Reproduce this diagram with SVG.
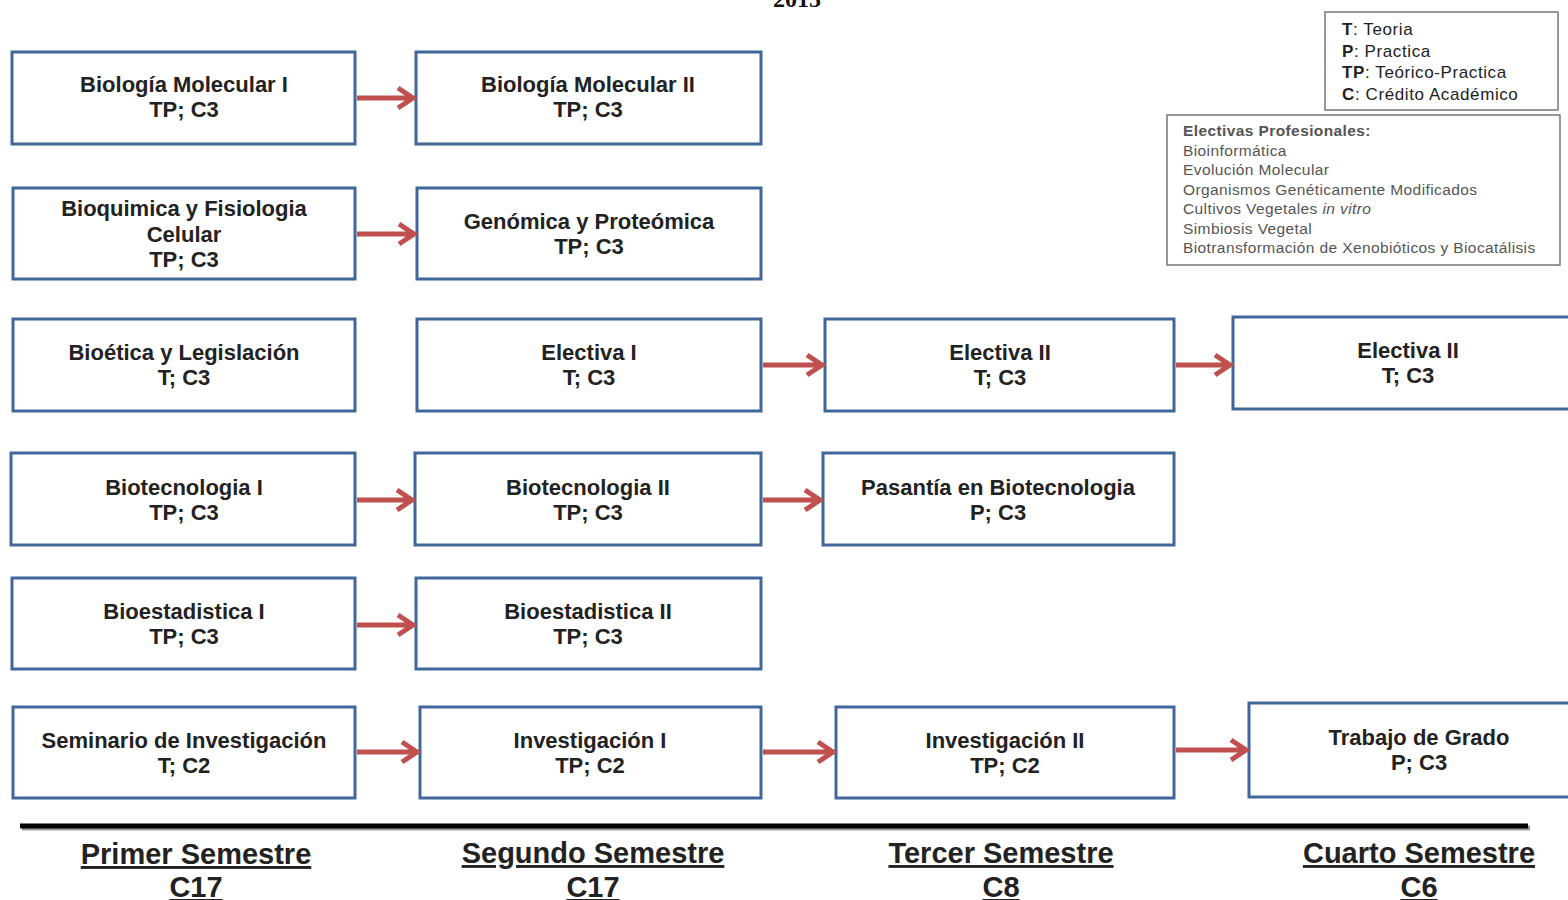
<svg xmlns="http://www.w3.org/2000/svg" width="1568" height="900" viewBox="0 0 1568 900">
<defs>
<style>
.box{fill:#fff;stroke:#41679a;stroke-width:3}
.t{font-family:"Liberation Sans",Arial,sans-serif;font-weight:bold;font-size:22px;fill:#222;text-anchor:middle}
.arr{stroke:#c0504d;stroke-width:5;fill:none;stroke-linecap:butt}
.lg{font-family:"Liberation Sans",Arial,sans-serif;font-size:17px;letter-spacing:0.6px;fill:#222}
.el{font-family:"Liberation Sans",Arial,sans-serif;font-size:15.5px;letter-spacing:0.4px;fill:#555}
.sem{font-family:"Liberation Sans",Arial,sans-serif;font-weight:bold;font-size:29px;fill:#222;text-anchor:middle;text-decoration:underline}
</style>
</defs>
<rect width="1568" height="900" fill="#fff"/>
<text x="797" y="7" font-family="Liberation Serif,serif" font-weight="bold" font-size="24" text-anchor="middle" fill="#111">2015</text>

<g id="legend1">
<rect x="1325" y="12" width="233" height="98" fill="#fff" stroke="#777" stroke-width="1.5"/>
<text class="lg" x="1342" y="35"><tspan font-weight="bold">T</tspan>: Teoria</text>
<text class="lg" x="1342" y="57"><tspan font-weight="bold">P</tspan>: Practica</text>
<text class="lg" x="1342" y="78"><tspan font-weight="bold">TP</tspan>: Teórico-Practica</text>
<text class="lg" x="1342" y="100"><tspan font-weight="bold">C</tspan>: Crédito Académico</text>
</g>
<g id="legend2">
<rect x="1167" y="115" width="393" height="150" fill="#fff" stroke="#777" stroke-width="1.5"/>
<text class="el" x="1183" y="136" font-weight="bold" fill="#222">Electivas Profesionales:</text>
<text class="el" x="1183" y="156">Bioinformática</text>
<text class="el" x="1183" y="175">Evolución Molecular</text>
<text class="el" x="1183" y="195">Organismos Genéticamente Modificados</text>
<text class="el" x="1183" y="214">Cultivos  Vegetales <tspan font-style="italic">in vitro</tspan></text>
<text class="el" x="1183" y="234">Simbiosis Vegetal</text>
<text class="el" x="1183" y="253">Biotransformación de Xenobióticos y Biocatálisis</text>
</g>

<g id="n1"><rect class="box" x="12" y="52" width="343" height="92"/><text class="t" x="184" y="92">Biología Molecular I</text><text class="t" x="184" y="117">TP; C3</text></g>
<g id="n2"><rect class="box" x="416" y="52" width="345" height="92"/><text class="t" x="588" y="92">Biología Molecular II</text><text class="t" x="588" y="117">TP; C3</text></g>
<g id="n3"><rect class="box" x="13" y="188" width="342" height="91"/><text class="t" x="184" y="216">Bioquimica y Fisiologia</text><text class="t" x="184" y="242">Celular</text><text class="t" x="184" y="267">TP; C3</text></g>
<g id="n4"><rect class="box" x="417" y="188" width="344" height="91"/><text class="t" x="589" y="229">Genómica y Proteómica</text><text class="t" x="589" y="254">TP; C3</text></g>
<g id="n5"><rect class="box" x="13" y="319" width="342" height="92"/><text class="t" x="184" y="360">Bioética y Legislación</text><text class="t" x="184" y="385">T; C3</text></g>
<g id="n6"><rect class="box" x="417" y="319" width="344" height="92"/><text class="t" x="589" y="360">Electiva I</text><text class="t" x="589" y="385">T; C3</text></g>
<g id="n7"><rect class="box" x="825" y="319" width="349" height="92"/><text class="t" x="1000" y="360">Electiva II</text><text class="t" x="1000" y="385">T; C3</text></g>
<g id="n8"><rect class="box" x="1233" y="317" width="340" height="92"/><text class="t" x="1408" y="358">Electiva II</text><text class="t" x="1408" y="383">T; C3</text></g>
<g id="n9"><rect class="box" x="11" y="453" width="344" height="92"/><text class="t" x="184" y="495">Biotecnologia I</text><text class="t" x="184" y="520">TP; C3</text></g>
<g id="n10"><rect class="box" x="415" y="453" width="346" height="92"/><text class="t" x="588" y="495">Biotecnologia II</text><text class="t" x="588" y="520">TP; C3</text></g>
<g id="n11"><rect class="box" x="823" y="453" width="351" height="92"/><text class="t" x="998" y="495">Pasantía en Biotecnologia</text><text class="t" x="998" y="520">P; C3</text></g>
<g id="n12"><rect class="box" x="12" y="578" width="343" height="91"/><text class="t" x="184" y="619">Bioestadistica I</text><text class="t" x="184" y="644">TP; C3</text></g>
<g id="n13"><rect class="box" x="416" y="578" width="345" height="91"/><text class="t" x="588" y="619">Bioestadistica II</text><text class="t" x="588" y="644">TP; C3</text></g>
<g id="n14"><rect class="box" x="13" y="707" width="342" height="91"/><text class="t" x="184" y="748">Seminario de Investigación</text><text class="t" x="184" y="773">T; C2</text></g>
<g id="n15"><rect class="box" x="420" y="707" width="341" height="91"/><text class="t" x="590" y="748">Investigación I</text><text class="t" x="590" y="773">TP; C2</text></g>
<g id="n16"><rect class="box" x="836" y="707" width="338" height="91"/><text class="t" x="1005" y="748">Investigación II</text><text class="t" x="1005" y="773">TP; C2</text></g>
<g id="n17"><rect class="box" x="1249" y="703" width="324" height="94"/><text class="t" x="1419" y="745">Trabajo de Grado</text><text class="t" x="1419" y="770">P; C3</text></g>

<g id="connectors">
<path class="arr" d="M357 98H412M398 88L413 98L398 108"/>
<path class="arr" d="M357 234H413M399 224L414 234L399 244"/>
<path class="arr" d="M763 365H821M807 355L822 365L807 375"/>
<path class="arr" d="M1176 365H1229M1215 355L1230 365L1215 375"/>
<path class="arr" d="M357 500H411M397 490L412 500L397 510"/>
<path class="arr" d="M763 500H819M805 490L820 500L805 510"/>
<path class="arr" d="M357 625H412M398 615L413 625L398 635"/>
<path class="arr" d="M357 752H416M402 742L417 752L402 762"/>
<path class="arr" d="M763 752H832M818 742L833 752L818 762"/>
<path class="arr" d="M1176 750H1245M1231 740L1246 750L1231 760"/>
</g>

<g id="axis">
<line x1="22" y1="828" x2="1530" y2="828" stroke="#999" stroke-width="5"/>
<line x1="20" y1="826" x2="1528" y2="826" stroke="#000" stroke-width="5"/>
<text class="sem" x="196" y="864">Primer Semestre</text>
<text class="sem" x="196" y="897">C17</text>
<text class="sem" x="593" y="863">Segundo Semestre</text>
<text class="sem" x="593" y="897">C17</text>
<text class="sem" x="1001" y="863">Tercer Semestre</text>
<text class="sem" x="1001" y="897">C8</text>
<text class="sem" x="1419" y="863">Cuarto Semestre</text>
<text class="sem" x="1419" y="897">C6</text>
</g>
</svg>
